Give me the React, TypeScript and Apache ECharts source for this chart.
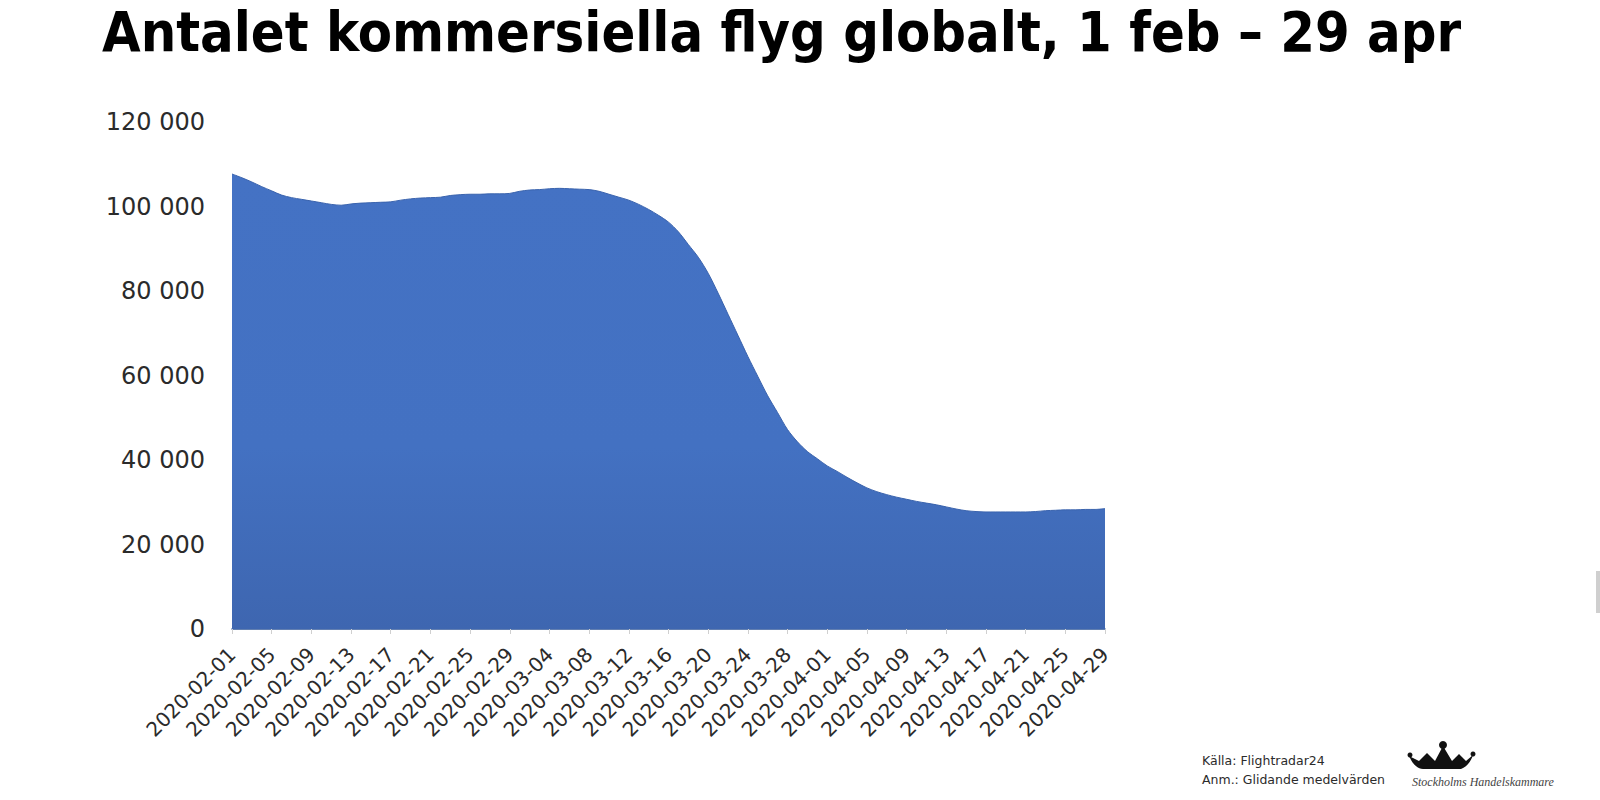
import React, { useEffect, useRef } from "react";
import * as echarts from "echarts";

const titleText = "Antalet kommersiella flyg globalt, 1 feb – 29 apr";
const sourceLine = "Källa: Flightradar24";
const noteLine = "Anm.: Glidande medelvärden";
const logoText = "Stockholms Handelskammare";

const dates: string[] = [
  "2020-02-01", "2020-02-02", "2020-02-03", "2020-02-04", "2020-02-05", "2020-02-06", "2020-02-07", "2020-02-08",
  "2020-02-09", "2020-02-10", "2020-02-11", "2020-02-12", "2020-02-13", "2020-02-14", "2020-02-15", "2020-02-16",
  "2020-02-17", "2020-02-18", "2020-02-19", "2020-02-20", "2020-02-21", "2020-02-22", "2020-02-23", "2020-02-24",
  "2020-02-25", "2020-02-26", "2020-02-27", "2020-02-28", "2020-02-29", "2020-03-01", "2020-03-02", "2020-03-03",
  "2020-03-04", "2020-03-05", "2020-03-06", "2020-03-07", "2020-03-08", "2020-03-09", "2020-03-10", "2020-03-11",
  "2020-03-12", "2020-03-13", "2020-03-14", "2020-03-15", "2020-03-16", "2020-03-17", "2020-03-18", "2020-03-19",
  "2020-03-20", "2020-03-21", "2020-03-22", "2020-03-23", "2020-03-24", "2020-03-25", "2020-03-26", "2020-03-27",
  "2020-03-28", "2020-03-29", "2020-03-30", "2020-03-31", "2020-04-01", "2020-04-02", "2020-04-03", "2020-04-04",
  "2020-04-05", "2020-04-06", "2020-04-07", "2020-04-08", "2020-04-09", "2020-04-10", "2020-04-11", "2020-04-12",
  "2020-04-13", "2020-04-14", "2020-04-15", "2020-04-16", "2020-04-17", "2020-04-18", "2020-04-19", "2020-04-20",
  "2020-04-21", "2020-04-22", "2020-04-23", "2020-04-24", "2020-04-25", "2020-04-26", "2020-04-27", "2020-04-28",
  "2020-04-29",
];

const flights: number[] = [
  107700, 106800, 105800, 104700, 103700, 102700, 102100, 101700,
  101300, 100900, 100500, 100300, 100600, 100800, 100900, 101000,
  101100, 101500, 101800, 102000, 102100, 102200, 102600, 102800,
  102900, 102900, 103000, 103000, 103100, 103600, 103900, 104000,
  104200, 104300, 104200, 104100, 104000, 103600, 102900, 102200,
  101500, 100500, 99300, 97900, 96300, 94000, 91000, 88000,
  84200, 79500, 74500, 69500, 64500, 59800, 55200, 51200,
  47200, 44300, 42000, 40300, 38600, 37300, 35900, 34600,
  33400, 32500, 31800, 31200, 30700, 30200, 29800, 29400,
  28900, 28400, 28000, 27800, 27700, 27700, 27700, 27700,
  27700, 27800, 28000, 28100, 28200, 28200, 28300, 28300,
  28500,
];

const yMin = 0;
const yMax = 120000;
const yStep = 20000;

const crownPath =
  "M0,10 C3,16 6,22 14,23 L52,23 C58,21 62,15 64,9 L57,15 L50,8 L43,15 L34,0 L26,15 L18,7 L10,15 Z";

function fmt(v: number): string {
  return String(v).replace(/\B(?=(\d{3})+(?!\d))/g, " ");
}

export default function App() {
  const ref = useRef<HTMLDivElement>(null);
  useEffect(() => {
    if (!ref.current) return;
    try {
      echarts.graphic.registerShape("crown", echarts.graphic.extendPath(crownPath, {}) as any);
    } catch (e) {}
    const chart = echarts.init(ref.current, undefined, { renderer: "svg" });
    chart.setOption({
      animation: false,
      backgroundColor: "#ffffff",
      grid: { left: 232, right: 495, top: 122, bottom: 171, containLabel: false },
      xAxis: {
        type: "category",
        data: dates,
        boundaryGap: false,
        axisLine: { show: true, lineStyle: { color: "#2E5597", width: 1.5 } },
        axisTick: { show: true, interval: 3, length: 5, lineStyle: { color: "#d0d0d0" } },
        axisLabel: {
          interval: 3,
          rotate: 45,
          margin: 22,
          fontFamily: "DejaVu Sans",
          fontSize: 20,
          color: "#2b2b2b",
        },
        splitLine: { show: false },
      },
      yAxis: {
        type: "value",
        min: yMin,
        max: yMax,
        interval: yStep,
        axisLine: { show: false },
        axisTick: { show: false },
        splitLine: { show: false },
        axisLabel: {
          margin: 27,
          fontFamily: "DejaVu Sans",
          fontSize: 24,
          color: "#2b2b2b",
          formatter: (v: number) => fmt(v),
        },
      },
      series: [
        {
          type: "line",
          data: flights,
          smooth: 0.3,
          symbol: "none",
          lineStyle: { color: "#3a63ad", width: 1 },
          areaStyle: {
            opacity: 1,
            color: new echarts.graphic.LinearGradient(0, 0, 0, 1, [
              { offset: 0, color: "#4472C4" },
              { offset: 0.6, color: "#4371C2" },
              { offset: 1, color: "#3E66B0" },
            ]),
          },
        },
      ],
      graphic: [
        {
          type: "text",
          left: 102,
          top: 3,
          style: {
            text: titleText,
            fontFamily: "'Liberation Sans Narrow', 'DejaVu Sans Condensed', sans-serif",
            fontWeight: "bold",
            fontSize: 55.5,
            fill: "#000000",
          },
        },
        {
          type: "text",
          left: 1202,
          top: 754,
          style: { text: sourceLine, fontFamily: "DejaVu Sans", fontSize: 12.5, fill: "#2b2b2b" },
        },
        {
          type: "text",
          left: 1202,
          top: 773,
          style: { text: noteLine, fontFamily: "DejaVu Sans", fontSize: 12.5, fill: "#2b2b2b" },
        },
        {
          type: "crown",
          x: 1409,
          y: 746,
          scaleX: 1,
          scaleY: 1,
          style: { fill: "#111111" },
        },
        { type: "circle", shape: { cx: 1443, cy: 745, r: 4 }, style: { fill: "#111111" } },
        { type: "circle", shape: { cx: 1410, cy: 755, r: 2.5 }, style: { fill: "#111111" } },
        { type: "circle", shape: { cx: 1473, cy: 754, r: 2.5 }, style: { fill: "#111111" } },
        {
          type: "text",
          left: 1412,
          top: 776,
          style: {
            text: logoText,
            fontFamily: "Liberation Serif",
            fontStyle: "italic",
            fontSize: 12,
            fill: "#444444",
          },
        },
        {
          type: "rect",
          shape: { x: 1596, y: 571, width: 4, height: 42 },
          style: { fill: "#cfcfcf" },
        },
      ],
    });
    return () => chart.dispose();
  }, []);
  return (
    <div
      ref={ref}
      style={{ position: "absolute", left: 0, top: 0, width: 1600, height: 800, background: "#fff" }}
    />
  );
}
